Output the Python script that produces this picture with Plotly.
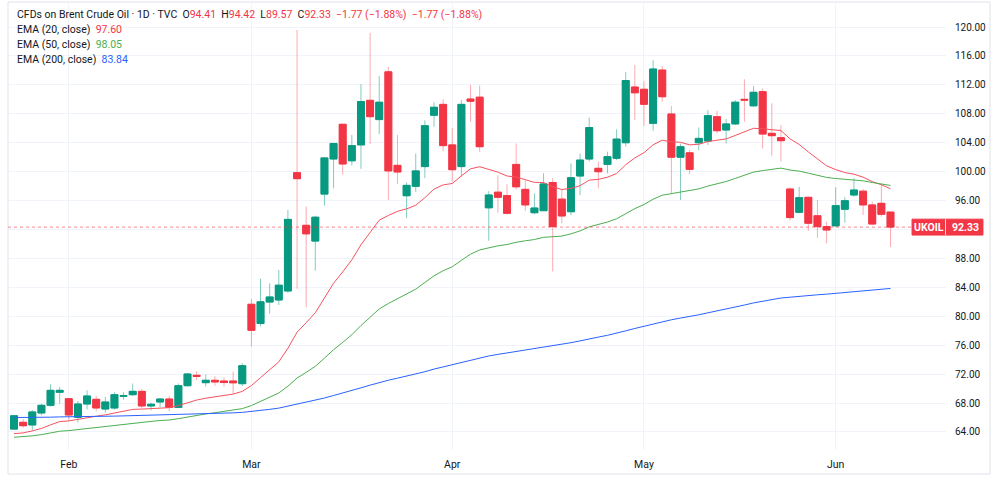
import plotly.graph_objects as go
import pandas as pd

# ---- data (daily candles, UKOIL) ----
opens = [64.40, 65.34, 64.97, 66.63, 67.69, 69.49, 68.60, 66.03, 67.87, 68.52,
         67.18, 67.32, 68.95, 69.16, 69.62, 67.60, 68.15, 68.56, 67.40, 70.40,
         71.84, 70.82, 71.15, 71.05, 71.05, 70.68, 81.66, 79.00, 81.97, 82.25,
         83.50, 99.86, 92.58, 90.40, 96.90, 101.75, 106.55, 101.50, 103.70, 109.86,
         107.20, 113.80, 100.87, 96.67, 97.97, 100.70, 107.80, 109.30, 103.70, 100.70,
         110.04, 110.30, 95.00, 97.16, 96.70, 101.00, 97.55, 94.32, 94.60, 98.50,
         96.20, 94.46, 99.40, 101.75, 100.46, 101.00, 101.85, 104.00, 111.70, 111.39,
         106.68, 114.05, 107.97, 102.00, 102.60, 104.00, 104.24, 107.60, 105.76, 106.60,
         110.00, 109.10, 111.06, 105.30, 104.70, 97.60, 94.38, 96.45, 93.90, 92.40,
         92.50, 94.80, 96.77, 97.30, 95.40, 95.62, 94.41]
highs = [66.30, 65.76, 67.04, 67.90, 70.60, 70.20, 68.70, 68.30, 69.76, 69.00,
         68.84, 69.50, 69.50, 70.70, 69.90, 68.10, 68.70, 69.00, 70.70, 72.16,
         72.40, 71.98, 71.74, 71.56, 72.34, 73.50, 82.40, 85.20, 84.56, 86.40,
         94.70, 119.60, 95.16, 93.90, 101.95, 103.95, 106.60, 105.07, 112.10, 119.20,
         113.20, 114.50, 105.07, 98.50, 102.50, 107.10, 109.60, 110.00, 106.00, 109.90,
         112.00, 111.90, 97.30, 99.50, 98.25, 103.90, 98.80, 97.00, 99.77, 99.10,
         97.46, 101.15, 102.50, 107.46, 101.40, 102.76, 105.85, 113.80, 114.75, 112.50,
         115.40, 114.60, 109.08, 103.90, 103.00, 106.10, 108.50, 108.40, 107.30, 109.90,
         112.77, 111.84, 111.50, 109.45, 106.45, 97.80, 97.90, 96.54, 96.08, 93.08,
         97.84, 96.45, 99.10, 97.56, 95.84, 98.30, 94.42]
lows = [64.30, 64.60, 64.23, 66.30, 67.50, 67.90, 65.60, 65.30, 67.14, 66.86,
        66.67, 67.10, 68.46, 68.98, 67.30, 67.00, 67.40, 66.86, 67.30, 70.30,
        71.20, 70.30, 70.40, 70.30, 69.25, 70.36, 75.80, 78.60, 80.36, 81.56,
        83.26, 83.80, 81.24, 86.30, 95.30, 97.70, 99.60, 100.87, 100.40, 103.86,
        105.20, 96.10, 98.30, 93.55, 97.20, 99.10, 106.20, 102.80, 98.60, 99.30,
        106.90, 102.76, 90.45, 94.30, 94.10, 97.55, 94.60, 94.10, 94.55, 86.20,
        92.85, 94.00, 96.77, 101.40, 97.70, 99.77, 101.60, 103.45, 107.14, 106.30,
        105.66, 109.67, 97.00, 96.08, 99.67, 103.00, 103.70, 105.30, 103.90, 106.45,
        106.90, 108.98, 103.20, 102.20, 101.38, 93.30, 94.24, 91.84, 90.86, 90.10,
        92.40, 92.94, 96.54, 94.00, 92.60, 93.77, 89.57]
closes = [66.25, 64.87, 66.77, 67.69, 69.76, 69.76, 66.35, 67.87, 68.98, 67.32,
          68.15, 69.16, 69.02, 69.62, 67.60, 67.83, 68.56, 67.40, 70.40, 72.02,
          71.70, 71.15, 70.92, 70.84, 70.80, 73.17, 78.06, 82.00, 82.67, 84.30,
          93.40, 99.03, 91.40, 93.70, 101.90, 103.90, 101.06, 103.60, 109.70, 107.60,
          109.60, 100.10, 99.95, 98.10, 100.10, 106.35, 108.90, 103.60, 100.27, 109.30,
          109.73, 103.45, 96.77, 96.45, 94.24, 97.90, 95.40, 94.97, 98.30, 92.40,
          93.87, 99.16, 101.60, 106.10, 99.99, 102.07, 104.50, 112.60, 110.90, 109.31,
          114.19, 110.36, 102.00, 103.45, 100.32, 104.60, 107.74, 105.66, 106.60, 109.60,
          109.90, 110.97, 105.20, 104.97, 104.28, 93.65, 96.40, 92.86, 92.40, 91.93,
          95.30, 95.98, 97.46, 95.40, 92.76, 94.10, 92.33]

# EMA settings: value at the first visible candle
ema_periods = [20, 50, 200]
ema_start = [63.77, 63.27, 66.00]
ema_colors = ["#f7525f", "#4caf50", "#2962ff"]
ema_text_colors = ["#f23645", "#4caf50", "#2962ff"]
# last EMA values shown in the legend
ema_legend_values = [97.60, 98.05, 83.84]

symbol = "UKOIL"
title_text = "CFDs on Brent Crude Oil · 1D · TVC"

# trading days (Good Friday closed)
dates = pd.bdate_range("2026-01-23", "2026-06-09")
dates = dates[dates != pd.Timestamp("2026-04-03")]
x = dates.strftime("%Y-%m-%d").tolist()

UP = "#089981"
DOWN = "#f23645"
UP_WICK = "rgba(8,153,129,0.5)"
DOWN_WICK = "rgba(242,54,69,0.42)"
TXT = "#131722"
GRID = "#f0f3fa"
FONT = "Roboto"


def ema(vals, n, start):
    a = 2.0 / (n + 1)
    out = [start]
    for v in vals[1:]:
        out.append(out[-1] + a * (v - out[-1]))
    return out


emas = [ema(closes, n, s) for n, s in zip(ema_periods, ema_start)]

fig = go.Figure()

# wicks (light)
fig.add_trace(go.Candlestick(
    x=x, open=opens, high=highs, low=lows, close=closes,
    increasing=dict(line=dict(color=UP_WICK, width=1), fillcolor=UP_WICK),
    decreasing=dict(line=dict(color=DOWN_WICK, width=1), fillcolor=DOWN_WICK),
    whiskerwidth=0, showlegend=False, hoverinfo="skip"))

# EMA lines
for e, c in zip(emas, ema_colors):
    fig.add_trace(go.Scatter(x=x, y=e, mode="lines", line=dict(color=c, width=1),
                             showlegend=False, hoverinfo="skip"))

# bodies (solid)
body_hi = [max(o, c) for o, c in zip(opens, closes)]
body_lo = [min(o, c) for o, c in zip(opens, closes)]
fig.add_trace(go.Candlestick(
    x=x, open=opens, high=body_hi, low=body_lo, close=closes,
    increasing=dict(line=dict(color=UP, width=1), fillcolor=UP),
    decreasing=dict(line=dict(color=DOWN, width=1), fillcolor=DOWN),
    whiskerwidth=0, showlegend=False))

# month ticks: first trading day of each month after the first
firsts = dates.to_series().groupby(dates.to_period("M")).min()
tick_dates = [d for d in firsts if d != dates[0]]
tickvals = [d.strftime("%Y-%m-%d") for d in tick_dates]
ticktext = [d.strftime("%b") for d in tick_dates]

ytick = list(range(64, 121, 4))

fig.update_layout(
    width=1000, height=479,
    margin=dict(l=8, r=54, t=3, b=29),
    paper_bgcolor="white", plot_bgcolor="white",
    font=dict(family=FONT, size=10, color=TXT),
    boxgap=0.2, boxgroupgap=0.05,
    showlegend=False,
    xaxis=dict(type="category", range=[-0.66, 102.08], rangeslider=dict(visible=False),
               tickvals=tickvals, ticktext=ticktext, showgrid=True, gridcolor=GRID,
               gridwidth=1, ticks="", showline=False, zeroline=False,
               tickfont=dict(size=10.5, color=TXT), ticklabelstandoff=6),
    yaxis=dict(side="right", range=[61.51, 123.32], tickvals=ytick,
               ticktext=[f"{v:.2f}" for v in ytick], showgrid=True, gridcolor=GRID,
               gridwidth=1, ticks="", showline=False, zeroline=False,
               tickfont=dict(size=10, color=TXT), ticklabelstandoff=8),
)

# outer frame
fig.add_shape(type="rect", xref="paper", yref="paper", x0=0, x1=1.0469, y0=-0.0537, y1=1.0022,
              line=dict(color="#e0e3eb", width=1), fillcolor="rgba(0,0,0,0)", layer="above")

last = closes[-1]
prev = closes[-2]
chg = last - prev
pct = chg / prev * 100

# last price dotted line + axis label
fig.add_shape(type="line", xref="paper", yref="y", x0=0, x1=0.9638, y0=last, y1=last,
              line=dict(color="rgba(242,54,69,0.6)", width=1, dash="dot"))
fig.add_shape(type="rect", xref="paper", yref="y", x0=0.9638, x1=1.0394,
              y0=last - 1.1, y1=last + 1.1, line=dict(color=DOWN, width=1), fillcolor=DOWN)
fig.add_shape(type="line", xref="paper", yref="y", x0=0.9995, x1=0.9995,
              y0=last - 1.1, y1=last + 1.1, line=dict(color="rgba(255,255,255,0.8)", width=1))
fig.add_annotation(xref="paper", yref="y", x=0.9819, y=last, text="<b>" + symbol + "</b>",
                   xanchor="center", yanchor="middle",
                   showarrow=False, font=dict(color="white", size=10.5, family=FONT))
fig.add_annotation(xref="paper", yref="y", x=1.0203, y=last, text=f"<b>{last:.2f}</b>",
                   xanchor="center", yanchor="middle",
                   showarrow=False, font=dict(color="white", size=10.5, family=FONT))


def col(s, c=DOWN):
    return f"<span style='color:{c}'>{s}</span>"


sp = "\u00a0\u00a0"
sign = "\u2212" if chg < 0 else "+"
chg_s = f"{sign}{abs(chg):.2f} ({sign}{abs(pct):.2f}%)"
line1 = (title_text + sp + "O" + col(f"{opens[-1]:.2f}") + sp + "H" + col(f"{highs[-1]:.2f}")
         + sp + "L" + col(f"{lows[-1]:.2f}") + sp + "C" + col(f"{last:.2f}") + sp
         + col(chg_s) + sp + col(chg_s))
legend_lines = [line1]
for n, v, c in zip(ema_periods, ema_legend_values, ema_text_colors):
    legend_lines.append(f"EMA ({n}, close)" + sp + col(f"{v:.2f}", c))

ys_px = [15, 29.5, 44, 59]
for t, ypx in zip(legend_lines, ys_px):
    fig.add_annotation(xref="paper", yref="paper", x=(15 - 8) / 938, y=(450 - ypx) / 447,
                       xanchor="left", yanchor="middle", text=t, showarrow=False,
                       font=dict(size=10.5, color=TXT, family=FONT), align="left")

fig.write_html("out.html")
